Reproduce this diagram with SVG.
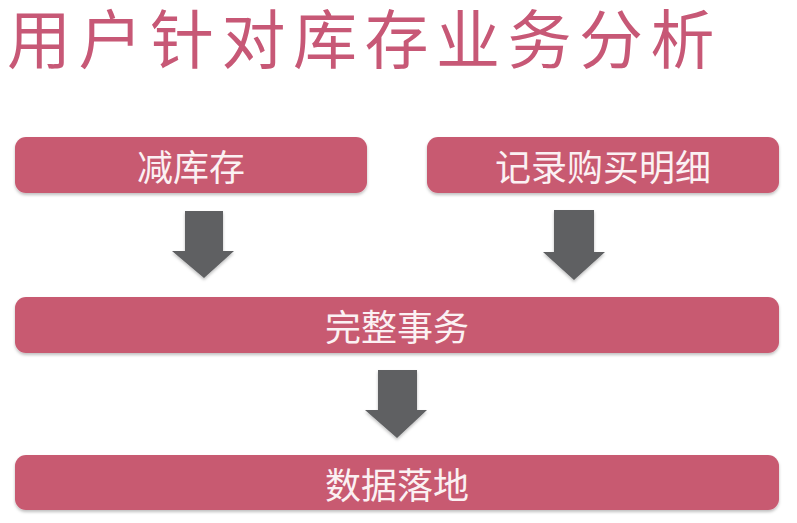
<svg xmlns="http://www.w3.org/2000/svg" width="797" height="523" viewBox="0 0 797 523">
<defs>
<filter id="sh" x="-5%" y="-20%" width="110%" height="150%">
<feDropShadow dx="0" dy="2" stdDeviation="1.5" flood-color="#000" flood-opacity="0.25"/>
</filter>
<style>
.box{fill:#c85a71;filter:url(#sh)}
.lbl{fill:#fbf1f3;font-family:"Noto Sans CJK SC","Noto Sans",sans-serif;font-size:36px;text-anchor:middle;dominant-baseline:central}
.title{fill:#c75876;font-family:"Noto Sans CJK SC","Noto Sans",sans-serif;font-size:64px;letter-spacing:7.5px}
.arr{fill:#5f6062;filter:url(#sh)}
</style>
</defs>
<rect width="797" height="523" fill="#ffffff"/>
<text class="title" x="7" y="63">用户针对库存业务分析</text>
<g id="node-jiankucun">
<rect class="box" x="15" y="137" width="352" height="56" rx="11"/>
<text class="lbl" x="191" y="165">减库存</text>
</g>
<g id="node-jilu">
<rect class="box" x="427" y="137" width="352" height="56" rx="11"/>
<text class="lbl" x="603" y="165">记录购买明细</text>
</g>
<g id="node-shiwu">
<rect class="box" x="15" y="297" width="764" height="56" rx="11"/>
<text class="lbl" x="397" y="325">完整事务</text>
</g>
<g id="node-luodi">
<rect class="box" x="15" y="455" width="764" height="55" rx="11"/>
<text class="lbl" x="397" y="483">数据落地</text>
</g>
<g id="connectors">
<polygon class="arr" points="185,211 223,211 223,251 234,251 204,278 172,251 185,251"/>
<polygon class="arr" points="554,210 594,210 594,252 605,252 574,280 543,252 554,252"/>
<polygon class="arr" points="378,370 417,370 417,410 427,410 397,438 365,410 378,410"/>
</g>
</svg>
